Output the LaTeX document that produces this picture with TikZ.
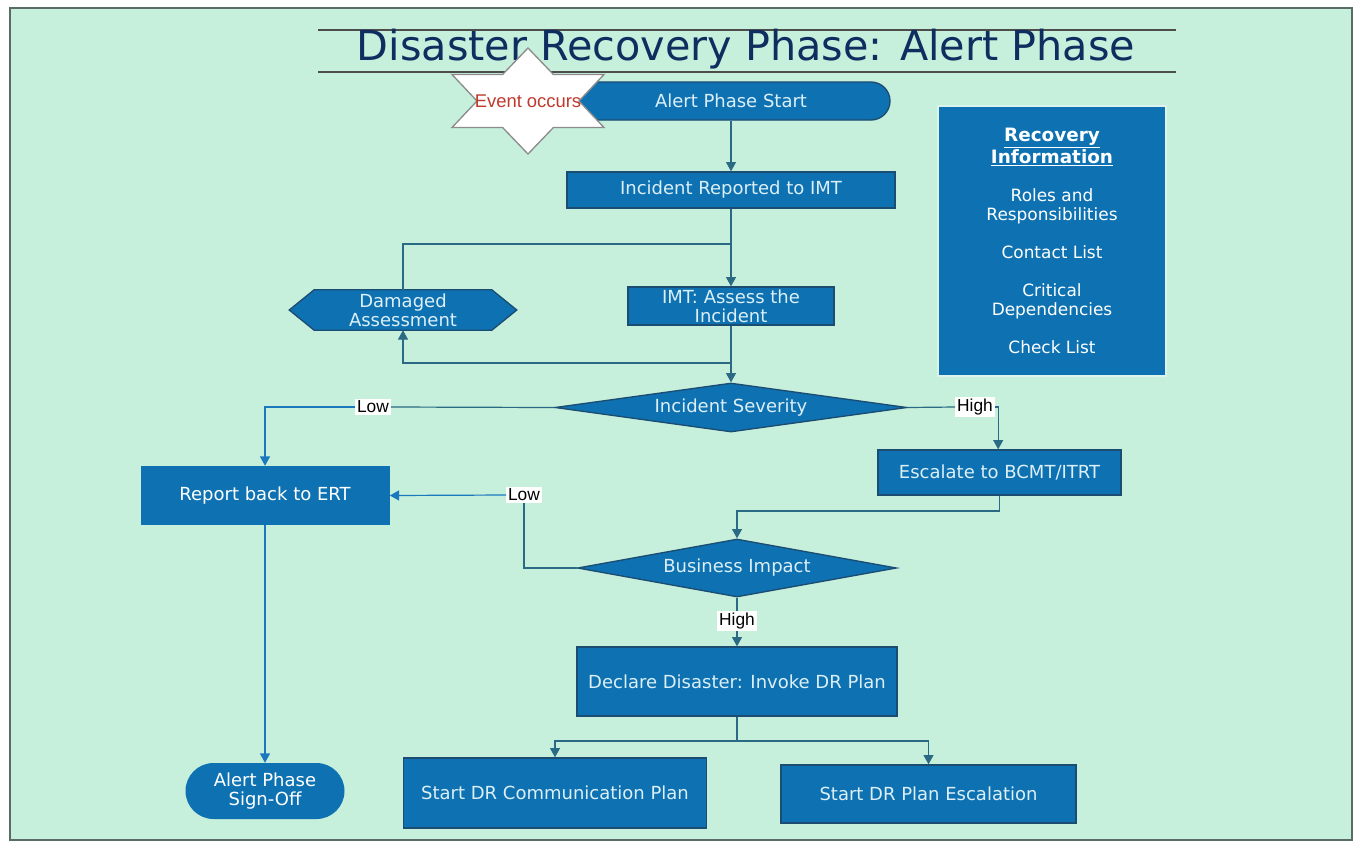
\documentclass[tikz,border=0pt]{standalone}
\usepackage{fontspec}
\setmainfont{DejaVu Sans}
\newfontfamily\arialf{Liberation Sans}
\usetikzlibrary{arrows.meta,shapes.geometric,shapes.misc}
\definecolor{bg}{HTML}{C6EFDC}
\definecolor{frame}{HTML}{5A6A66}
\definecolor{boxblue}{HTML}{0E72B2}
\definecolor{boxedge}{HTML}{1B4C72}
\definecolor{boxtext}{HTML}{DCEFF7}
\definecolor{lineA}{HTML}{2A6A84}
\definecolor{lineB}{HTML}{1B78BD}
\definecolor{titlec}{HTML}{0F2D5E}
\definecolor{evred}{HTML}{C0392B}
\definecolor{infoedge}{HTML}{DDF3EE}
\begin{document}
\begin{tikzpicture}[x=0.75pt,y=-0.75pt,
  boxfont/.style={font=\fontsize{13.5pt}{14.5pt}\selectfont},
  flowbox/.style={rectangle, draw=boxedge, line width=1pt, fill=boxblue, text=boxtext, boxfont, align=center, inner sep=0pt},
  plainbox/.style={rectangle, fill=boxblue, text=white, boxfont, align=center, inner sep=0pt},
  decision/.style={diamond, aspect=7, draw=boxedge, line width=1pt, fill=boxblue, text=boxtext, boxfont, inner sep=0pt},
  lbl/.style={fill=white, text=black, font=\arialf\fontsize{13pt}{14pt}\selectfont, inner sep=1.3pt},
  conn/.style={draw=lineA, line width=0.9pt},
  connB/.style={draw=lineB, line width=0.9pt},
  arr/.style={conn, -{Triangle[length=7pt,width=7.5pt]}},
  arrB/.style={connB, -{Triangle[length=7pt,width=7.5pt]}},
  titleline/.style={draw=black!70, line width=1.1pt}
]
\useasboundingbox (0,0) rectangle (1356,840);
\fill[white] (0,0) rectangle (1356,840);
\filldraw[fill=bg, draw=frame, line width=0.8pt] (10,8) rectangle (1352,840);

% title
\draw[titleline] (318,30) -- (1176,30);
\draw[titleline] (318,72) -- (1176,72);
\node[text=titlec, font=\fontsize{31pt}{33pt}\selectfont] (title) at (746,49) {Disaster Recovery Phase: Alert Phase};

% nodes
\node[flowbox, rounded rectangle, minimum width=238.5pt, minimum height=28.5pt] (start) at (731,101) {Alert Phase Start};
\node[flowbox, minimum width=246pt, minimum height=27pt] (inc) at (731,190) {Incident Reported to IMT};
\node[flowbox, minimum width=154.5pt, minimum height=28.5pt] (imt) at (731,306) {IMT: Assess the\\Incident};
\node[rectangle, minimum width=170.25pt, minimum height=30pt, inner sep=0pt] (dmg) at (403,310) {};
\filldraw[fill=boxblue, draw=boxedge, line width=1pt]
  (dmg.west) -- ([xshift=18.75pt]dmg.north west) -- ([xshift=-18.75pt]dmg.north east) -- (dmg.east)
  -- ([xshift=-18.75pt]dmg.south east) -- ([xshift=18.75pt]dmg.south west) -- cycle;
\node[text=boxtext, boxfont, align=center, inner sep=0pt] (dmgtxt) at (dmg.center) {Damaged\\Assessment};
\node[decision, minimum width=264pt, minimum height=36.75pt] (sev) at (731,407.5) {Incident Severity};
\node[plainbox, minimum width=186.75pt, minimum height=44.25pt] (ert) at (265,495.5) {Report back to ERT};
\node[flowbox, minimum width=182.25pt, minimum height=33.75pt] (esc) at (999.5,472.5) {Escalate to BCMT/ITRT};
\node[decision, minimum width=239.25pt, minimum height=43.5pt] (bi) at (737,568) {Business Impact};
\node[flowbox, minimum width=240pt, minimum height=51.75pt] (decl) at (737,681.5) {Declare Disaster: Invoke DR Plan};
\node[flowbox, minimum width=227.25pt, minimum height=52.5pt] (comm) at (555,793) {Start DR Communication Plan};
\node[flowbox, minimum width=221.25pt, minimum height=43.5pt] (esc2) at (928.5,794) {Start DR Plan Escalation};
\node[plainbox, rounded rectangle, minimum width=119.25pt, minimum height=42pt] (signoff) at (265,791) {Alert Phase\\Sign-Off};
\node[rectangle, fill=boxblue, draw=infoedge, line width=1.2pt, text=white, align=center,
  font=\fontsize{12.7pt}{14.25pt}\selectfont, minimum width=171pt, minimum height=202.5pt] (info) at (1052,241)
  {{\fontsize{13.8pt}{14.25pt}\selectfont\bfseries\underline{Recovery}}\\{\fontsize{13.8pt}{14.25pt}\selectfont\bfseries\underline{Information}}\\[14.25pt]
   Roles and\\Responsibilities\\[14.25pt]Contact List\\[14.25pt]Critical\\Dependencies\\[14.25pt]Check List};

% star
\coordinate (ev) at (528,101);
\filldraw[fill=white, draw=black!45, line width=1pt]
  (528,48) -- (553.4,74.5) -- (604,74.5) -- (579,101) -- (604,127.5) -- (553.4,127.5) -- (528,154)
  -- (502.6,127.5) -- (452,127.5) -- (477,101) -- (452,74.5) -- (502.6,74.5) -- cycle;
\node[text=evred, font=\arialf\fontsize{13.8pt}{14pt}\selectfont, inner sep=0pt] (evt) at (ev) {Event occurs};

% junction coordinates
\coordinate (j1) at (731,244);
\coordinate (j2) at (731,363);
\coordinate (j3) at (737,511);
\coordinate (j4) at (737,741);

% labels
\node[lbl] (low1) at (373,407) {Low};
\node[lbl] (high1) at (975,407) {High};
\node[lbl] (low2) at (524,495) {Low};
\node[lbl] (high2) at (737,621) {High};

% connectors
\draw[arr] (start.south) -- (inc.north);
\draw[arr] (inc.south) -- (imt.north);
\draw[conn] (j1) -| (dmg.north);
\draw[arr] (imt.south) -- (sev.north);
\draw[arr] (j2) -| (dmg.south);
\draw[conn] (sev.west) -- (low1.east);
\draw[arrB] (low1.west) -| (ert.north);
\draw[conn] (sev.east) -- (high1.west);
\draw[arr] (high1.east) -| ([xshift=-1pt]esc.north);
\draw[arr] (esc.south) |- (j3) -- (bi.north);
\draw[conn] (bi.west) -| (low2.south);
\draw[arrB] (low2.west) -- (ert.east);
\draw[conn] (bi.south) -- (high2.north);
\draw[arr] (high2.south) -- (decl.north);
\draw[conn] (decl.south) -- (j4);
\draw[arr] (j4) -| (comm.north);
\draw[arr] (j4) -| (esc2.north);
\draw[arrB] (ert.south) -- (signoff.north);
\end{tikzpicture}
\end{document}
